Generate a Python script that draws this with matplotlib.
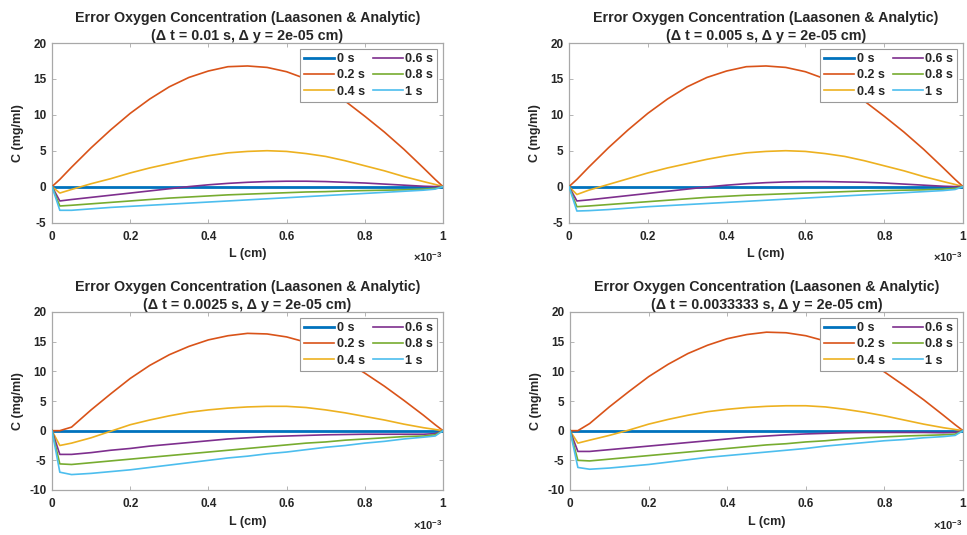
import numpy as np
import matplotlib
matplotlib.use("Agg")
import matplotlib.pyplot as plt
from matplotlib.ticker import FuncFormatter, MultipleLocator

plt.rcParams['font.family'] = ['Liberation Sans', 'DejaVu Sans']
plt.rcParams['mathtext.fontset'] = 'custom'
plt.rcParams['mathtext.rm'] = 'Liberation Sans:bold'
plt.rcParams['mathtext.it'] = 'Liberation Sans:bold'
plt.rcParams['mathtext.bf'] = 'Liberation Sans:bold'

# Grid positions along the membrane (cm)
L_CM = np.array([0, 0.02, 0.05, 0.1, 0.15, 0.2, 0.25, 0.3, 0.35, 0.4, 0.45, 0.5,
                 0.55, 0.6, 0.65, 0.7, 0.75, 0.8, 0.85, 0.9, 0.95, 0.98, 1.0]) * 1e-3

TIME_LABELS = ["0 s", "0.2 s", "0.4 s", "0.6 s", "0.8 s", "1 s"]
DT_LABELS = ["0.01", "0.005", "0.0025", "0.0033333"]
DY_LABEL = "2e-05"
COLORS = ["#0072BD", "#D95319", "#EDB120", "#7E2F8E", "#77AC30", "#4DBEEE"]

# Error = Laasonen - analytic (mg/ml), one list per output time
ZERO_ERR = [0.0] * 23

# dt = 0.01 s
a_t02 = [0, 1.0, 2.7, 5.4, 7.9, 10.2, 12.2, 13.9, 15.2, 16.1, 16.7, 16.8, 16.6, 16.0, 15.0, 13.7, 11.9, 9.8, 7.6, 5.2, 2.6, 1.0, 0]
a_t04 = [0, -0.9, -0.4, 0.4, 1.1, 1.9, 2.6, 3.2, 3.8, 4.3, 4.7, 4.9, 5.0, 4.9, 4.6, 4.2, 3.6, 2.9, 2.2, 1.4, 0.7, 0.3, 0]
a_t06 = [0, -2.0, -1.8, -1.5, -1.2, -0.9, -0.6, -0.3, 0.0, 0.25, 0.45, 0.6, 0.7, 0.75, 0.75, 0.7, 0.6, 0.5, 0.35, 0.2, 0.05, 0.0, 0]
a_t08 = [0, -2.7, -2.6, -2.4, -2.2, -2.0, -1.8, -1.6, -1.45, -1.3, -1.15, -1.05, -0.95, -0.85, -0.75, -0.7, -0.6, -0.55, -0.5, -0.45, -0.35, -0.25, 0]
a_t10 = [0, -3.3, -3.3, -3.1, -2.9, -2.75, -2.6, -2.45, -2.3, -2.15, -2.0, -1.85, -1.7, -1.55, -1.4, -1.25, -1.1, -0.95, -0.8, -0.65, -0.5, -0.35, 0]

# dt = 0.005 s
b_t02 = [0, 1.0, 2.7, 5.4, 7.9, 10.2, 12.2, 13.9, 15.2, 16.1, 16.7, 16.8, 16.6, 16.0, 15.0, 13.7, 11.9, 9.8, 7.6, 5.2, 2.6, 1.0, 0]
b_t04 = [0, -1.1, -0.5, 0.3, 1.1, 1.9, 2.6, 3.2, 3.8, 4.3, 4.7, 4.9, 5.0, 4.9, 4.6, 4.2, 3.6, 2.9, 2.2, 1.4, 0.7, 0.3, 0]
b_t06 = [0, -2.0, -1.85, -1.55, -1.25, -0.95, -0.65, -0.35, -0.05, 0.2, 0.4, 0.55, 0.65, 0.7, 0.7, 0.65, 0.6, 0.5, 0.35, 0.2, 0.05, 0.0, 0]
b_t08 = [0, -2.8, -2.7, -2.5, -2.3, -2.1, -1.9, -1.7, -1.5, -1.35, -1.2, -1.1, -1.0, -0.9, -0.8, -0.7, -0.6, -0.55, -0.5, -0.45, -0.35, -0.25, 0]
b_t10 = [0, -3.4, -3.35, -3.2, -3.0, -2.8, -2.65, -2.5, -2.35, -2.2, -2.05, -1.9, -1.75, -1.6, -1.45, -1.3, -1.15, -1.0, -0.85, -0.7, -0.55, -0.4, 0]

# dt = 0.0025 s
c_t02 = [0, 0.0, 0.6, 3.5, 6.2, 8.8, 11.0, 12.8, 14.2, 15.3, 16.0, 16.4, 16.3, 15.8, 14.9, 13.5, 11.7, 9.7, 7.5, 5.1, 2.6, 1.0, 0]
c_t04 = [0, -2.5, -2.1, -1.2, -0.1, 1.0, 1.8, 2.5, 3.1, 3.5, 3.8, 4.0, 4.1, 4.1, 3.9, 3.5, 3.0, 2.4, 1.8, 1.1, 0.5, 0.2, 0]
c_t06 = [0, -4.0, -4.0, -3.7, -3.3, -3.0, -2.6, -2.3, -2.0, -1.7, -1.4, -1.2, -1.0, -0.9, -0.8, -0.7, -0.65, -0.6, -0.6, -0.6, -0.6, -0.5, 0]
c_t08 = [0, -5.6, -5.7, -5.4, -5.1, -4.8, -4.5, -4.2, -3.9, -3.6, -3.3, -3.0, -2.7, -2.4, -2.1, -1.9, -1.6, -1.4, -1.2, -1.0, -0.9, -0.7, 0]
c_t10 = [0, -7.0, -7.4, -7.2, -6.9, -6.6, -6.2, -5.8, -5.4, -5.0, -4.6, -4.3, -3.9, -3.6, -3.2, -2.8, -2.5, -2.1, -1.8, -1.4, -1.1, -0.9, 0]

# dt = 0.0033333 s
d_t02 = [0, 0.0, 1.2, 4.0, 6.6, 9.1, 11.2, 13.0, 14.4, 15.5, 16.2, 16.6, 16.5, 16.0, 15.1, 13.7, 11.9, 9.9, 7.6, 5.2, 2.6, 1.0, 0]
d_t04 = [0, -2.1, -1.6, -0.8, 0.1, 1.1, 1.9, 2.6, 3.2, 3.6, 3.9, 4.1, 4.2, 4.2, 4.0, 3.6, 3.1, 2.5, 1.8, 1.1, 0.5, 0.2, 0]
d_t06 = [0, -3.5, -3.5, -3.2, -2.9, -2.6, -2.3, -2.0, -1.7, -1.4, -1.1, -0.9, -0.7, -0.55, -0.45, -0.35, -0.3, -0.3, -0.3, -0.3, -0.35, -0.3, 0]
d_t08 = [0, -5.0, -5.1, -4.8, -4.5, -4.2, -3.9, -3.6, -3.3, -3.0, -2.7, -2.4, -2.2, -1.9, -1.7, -1.4, -1.2, -1.05, -0.9, -0.8, -0.7, -0.6, 0]
d_t10 = [0, -6.2, -6.5, -6.3, -6.0, -5.7, -5.3, -4.9, -4.5, -4.2, -3.9, -3.6, -3.3, -3.0, -2.6, -2.3, -2.0, -1.7, -1.5, -1.2, -1.0, -0.8, 0]

PANELS = [
    (ZERO_ERR, a_t02, a_t04, a_t06, a_t08, a_t10),
    (ZERO_ERR, b_t02, b_t04, b_t06, b_t08, b_t10),
    (ZERO_ERR, c_t02, c_t04, c_t06, c_t08, c_t10),
    (ZERO_ERR, d_t02, d_t04, d_t06, d_t08, d_t10),
]
YLIMS = [(-5, 20), (-5, 20), (-10, 20), (-10, 20)]

W, H = 967, 535
fig = plt.figure(figsize=(W / 100, H / 100), dpi=100)

# axes boxes in pixels: left, top, right, bottom
BOXES = [(52, 43, 443, 222.5), (569, 43, 963, 222.5),
         (52, 312, 443, 490), (570, 312, 963, 490)]

TXT = '#262626'
SPINE = '#a8a8a8'

for i, (box, series, ylim) in enumerate(zip(BOXES, PANELS, YLIMS)):
    l, t, r, b = box
    ax = fig.add_axes([l / W, 1 - b / H, (r - l) / W, (b - t) / H])
    for k, (vals, lab, col) in enumerate(zip(series, TIME_LABELS, COLORS)):
        lw = 2.0 if k == 0 else 1.2
        ax.plot(L_CM, vals, color=col, lw=lw, label=lab, zorder=3 if k == 0 else 4)
    ax.set_xlim(0, 1e-3)
    ax.set_ylim(*ylim)
    ax.xaxis.set_major_locator(MultipleLocator(0.2e-3))
    ax.yaxis.set_major_locator(MultipleLocator(5))
    ax.xaxis.set_major_formatter(FuncFormatter(lambda v, p: f"{v * 1e3:g}"))
    ax.yaxis.set_major_formatter(FuncFormatter(lambda v, p: f"{v:g}"))
    ax.tick_params(direction='in', top=True, right=True, length=3, width=0.6,
                   color=SPINE, labelsize=8.5, labelcolor=TXT)
    ax.tick_params(axis='x', pad=6)
    ax.tick_params(axis='y', pad=4)
    for lbl in ax.get_xticklabels() + ax.get_yticklabels():
        lbl.set_fontweight('bold')
    for s in ax.spines.values():
        s.set_color(SPINE)
        s.set_linewidth(0.9)
    ax.set_title("Error Oxygen Concentration (Laasonen & Analytic)\n"
                 f"(\u0394 t = {DT_LABELS[i]} s, \u0394 y = {DY_LABEL} cm)",
                 fontsize=10.3, fontweight='bold', color=TXT, pad=2.5, linespacing=1.3)
    hpx = b - t
    ax.set_xlabel("L (cm)", fontsize=9, fontweight='bold', color=TXT)
    ax.xaxis.set_label_coords(0.5, -(248 - 222.5) / hpx)
    ax.set_ylabel("C (mg/ml)", fontsize=9, fontweight='bold', color=TXT)
    ax.yaxis.set_label_coords(-28 / (r - l), 0.5)
    ax.annotate(r"$\times10^{-3}$", xy=(1, 0), xycoords='axes fraction',
                xytext=(0, -20), textcoords='offset points', ha='right', va='top',
                fontsize=8, color=TXT)
    leg = ax.legend(ncol=2, loc='upper right', fontsize=9, frameon=True, fancybox=False,
                    framealpha=1, edgecolor='#9a9a9a', handlelength=2.4,
                    handletextpad=0.2, columnspacing=0.6, labelspacing=0.35,
                    borderpad=0.35, borderaxespad=0.45)
    leg.get_frame().set_linewidth(0.8)
    for txt in leg.get_texts():
        txt.set_fontweight('bold')
        txt.set_color(TXT)

fig.savefig("out.png", dpi=100)
